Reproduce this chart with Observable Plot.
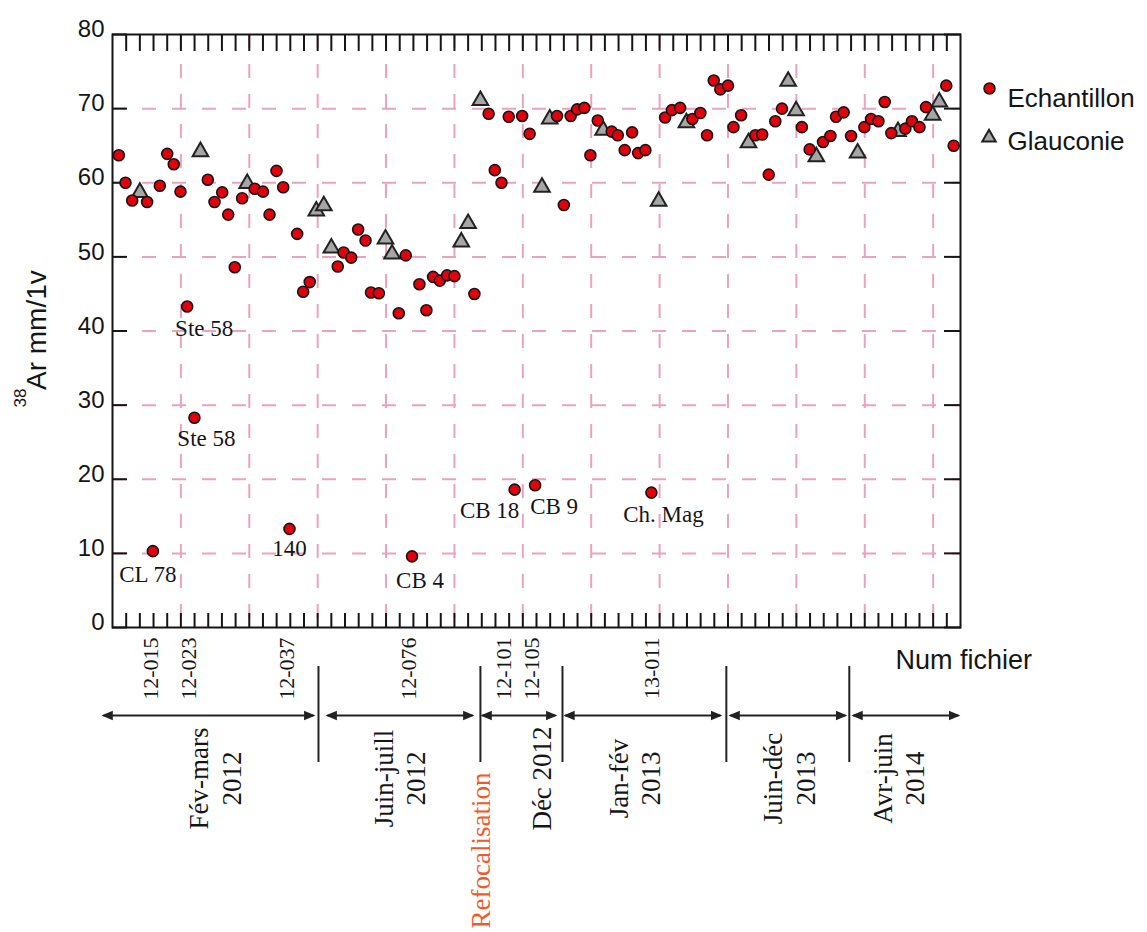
<!DOCTYPE html>
<html><head><meta charset="utf-8">
<script src="https://cdn.jsdelivr.net/npm/d3@7"></script>
<script src="https://cdn.jsdelivr.net/npm/@observablehq/plot@0.6"></script>
<style>html,body{margin:0;padding:0;background:#fff;overflow:hidden}svg{display:block}</style>
</head><body><div id="chart"></div>
<script>
// ---- Data (file index along x, 38Ar in mm/1v along y) ----
const echX = [0.46,0.95,1.44,2.53,2.95,3.46,4.0,4.48,4.97,5.46,5.99,6.97,7.46,8.02,8.46,8.94,9.48,10.4,11.0,11.48,11.99,12.48,12.94,13.5,13.94,14.42,
  16.47,16.9,17.45,17.96,18.5,18.9,19.47,20.93,21.44,21.9,22.44,22.95,23.44,23.93,24.46,25.0,26.46,
  27.5,27.95,28.44,28.97,29.4,29.95,30.5,30.9,32.5,33.0,33.5,33.97,34.5,34.94,35.48,36.5,36.94,37.45,37.99,38.43,38.96,39.4,
  40.4,40.9,41.5,42.4,42.98,43.47,43.96,44.44,45.0,45.4,45.96,47.0,47.5,47.98,48.46,48.95,50.4,50.97,51.95,52.49,52.9,53.46,54.0,
  54.97,55.46,56.0,56.46,56.94,57.97,58.45,59.0,59.48,60.96,61.5];
const echY = [63.7,60.0,57.6,57.4,10.3,59.6,63.9,62.5,58.8,43.3,28.3,60.4,57.4,58.7,55.7,48.6,57.9,59.2,58.8,55.7,61.6,59.4,13.3,53.1,45.3,46.6,
  48.7,50.6,49.9,53.7,52.2,45.2,45.1,42.4,50.2,9.6,46.3,42.8,47.3,46.8,47.5,47.4,45.0,
  69.3,61.7,60.0,68.9,18.6,69.0,66.6,19.2,69.0,57.0,69.0,69.9,70.1,63.7,68.4,66.9,66.4,64.4,66.8,64.0,64.4,18.2,
  68.8,69.8,70.1,68.6,69.4,66.4,73.8,72.6,73.1,67.5,69.1,66.4,66.5,61.1,68.3,70.0,67.5,64.5,65.5,66.3,68.9,69.5,66.3,
  67.5,68.6,68.3,70.9,66.7,67.3,68.3,67.5,70.2,73.1,65.0];
const glaX = [2.0,6.43,9.85,14.9,15.45,16.0,19.96,20.44,25.5,26.0,26.9,31.4,31.97,35.87,39.93,41.96,46.5,49.4,49.98,51.46,54.48,57.43,59.96,60.45];
const glaY = [58.7,64.2,59.9,56.2,56.9,51.2,52.4,50.4,52.0,54.5,71.1,59.4,68.6,67.1,57.5,68.1,65.4,73.7,69.7,63.5,64.0,66.9,69.1,70.9];

const outlierLabels = ["CL 78","Ste 58","Ste 58","140","CB 4","CB 18","CB 9","Ch. Mag"];
const outlierX = [2.95,5.46,5.99,12.94,21.9,29.4,30.9,39.4];
const outlierY = [10.3,43.3,28.3,13.3,9.6,18.6,19.2,18.2];

const fileLabels = ["12-015","12-023","12-037","12-076","12-101","12-105","13-011"];
const fileX = [2.81,5.59,12.79,21.64,28.65,30.7,39.47];

const periodLabels = ["Fév-mars\n2012","Juin-juill\n2012","Déc 2012","Jan-fév\n2013","Juin-déc\n2013","Avr-juin\n2014"];
const periodStart = [-0.66,15.72,27.05,33.11,45.18,54.17];
const periodEnd = [14.69,26.32,32.38,44.44,53.58,61.84];
const periodLabelX = [7.42,20.94,31.29,38.1,49.4,57.4];
const separatorX = [15.06,26.9,32.9,44.88,53.87];
const refocLabel = "Refocalisation";
const refocX = 26.97;

const seriesNames = ["Echantillon","Glauconie"];
const yTicks = [0,10,20,30,40,50,60,70,80];
const yGrid = [10,20,30,40,50,60,70];
const xGrid = [5,10,15,20,25,30,35,40,45,50,55,60];
const xMinor = d3.range(1, 62);
const xDomain = [0, 62];
const yDomain = [0, 80];

// ---- Build tables ----
const ech = echX.map((x, i) => ({x, y: echY[i]}));
const gla = glaX.map((x, i) => ({x, y: glaY[i]}));

// ---- Styles ----
const pink = "#e9a3bf";
const red = "#e1000b";
const ink = "#151515";
const serif = "'Liberation Serif', 'Times New Roman', serif";
const sans = "'Liberation Sans', Arial, sans-serif";
const labelOffsets = [[-5,23],[17,22],[12,21],[0,20],[8,24],[-25,21],[19,21],[12,22]];

const plot = Plot.plot({
  width: 1147, height: 932,
  marginLeft: 112, marginRight: 187, marginTop: 34, marginBottom: 305,
  style: {fontFamily: sans, background: "#fff", overflow: "visible", color: ink},
  x: {domain: xDomain},
  y: {domain: yDomain},
  marks: [
    Plot.gridY(yGrid, {stroke: pink, strokeOpacity: 1, strokeWidth: 2, strokeDasharray: "14,16"}),
    Plot.gridX(xGrid, {stroke: pink, strokeOpacity: 1, strokeWidth: 2, strokeDasharray: "14,16"}),
    Plot.frame({stroke: ink, strokeWidth: 2}),
    Plot.axisX(xMinor, {anchor: "bottom", tickSize: 14, dy: -14, tickFormat: () => "", label: null, stroke: ink, strokeWidth: 2}),
    Plot.axisX(xMinor, {anchor: "top", tickSize: 16, dy: 16, tickFormat: () => "", label: null, stroke: ink, strokeWidth: 2}),
    Plot.axisY(yTicks, {anchor: "left", tickSize: 15, dx: 15, tickFormat: () => "", label: null, stroke: ink, strokeWidth: 2}),
    Plot.axisY(yTicks, {anchor: "left", tickSize: 0, tickPadding: 8, dy: -5, fontSize: 24, label: null, fill: ink}),
    Plot.axisY(yTicks, {anchor: "right", tickSize: 17, dx: -17, tickFormat: () => "", label: null, stroke: ink, strokeWidth: 2}),
    Plot.dot(gla, {x: "x", y: "y", symbol: "triangle", r: 5.8, fill: "#a6a6a6", stroke: "#222", strokeWidth: 2}),
    Plot.dot(ech, {x: "x", y: "y", r: 5.5, fill: red, stroke: ink, strokeWidth: 1.6}),
    ...outlierLabels.map((t, i) => Plot.text([t], {
      x: () => outlierX[i], y: () => outlierY[i], text: d => d,
      dx: labelOffsets[i][0], dy: labelOffsets[i][1],
      fontFamily: serif, fontSize: 23, fill: ink
    })),
    // file number labels below axis
    Plot.text(fileLabels, {x: (d, i) => fileX[i], y: () => 0, text: d => d, rotate: -90, textAnchor: "end", dy: 10,
      fontFamily: serif, fontSize: 22, fill: ink}),
    // timeline
    Plot.link(periodLabels, {x1: (d, i) => periodStart[i], x2: (d, i) => periodEnd[i], y1: () => 0, y2: () => 0, dy: 88,
      stroke: "#222", strokeWidth: 2, markerStart: "arrow", markerEnd: "arrow"}),
    Plot.ruleX(separatorX, {insetTop: 632, insetBottom: -135, stroke: "#222", strokeWidth: 2}),
    Plot.text(periodLabels, {x: (d, i) => periodLabelX[i], y: () => 0, text: d => d, dy: 151, rotate: -90,
      textAnchor: "middle", lineHeight: 1.2, fontFamily: serif, fontSize: 27, fill: ink}),
    Plot.text([refocLabel], {x: () => refocX, y: () => 0, text: d => d, dy: 145, rotate: -90, textAnchor: "end",
      fontFamily: serif, fontSize: 27, fill: "#ef5a2a"}),
    // axis titles
    Plot.text(["Num fichier"], {frameAnchor: "bottom-right", dx: -65, dy: 41, textAnchor: "start", fontSize: 27, fill: ink}),
    Plot.text(["Ar mm/1v"], {frameAnchor: "left", rotate: -90, textAnchor: "start", dx: -75, dy: 59, fontSize: 28, fill: ink}),
    Plot.text(["38"], {frameAnchor: "left", rotate: -90, textAnchor: "start", dx: -92, dy: 76.5, fontSize: 17, fill: ink}),
    // legend
    Plot.dot([seriesNames[0]], {frameAnchor: "top-right", dx: 29, dy: 54, r: 5.5, fill: red, stroke: ink, strokeWidth: 1.5}),
    Plot.dot([seriesNames[1]], {frameAnchor: "top-right", dx: 28.5, dy: 103, symbol: "triangle", r: 5, fill: "#a6a6a6", stroke: "#222", strokeWidth: 2}),
    Plot.text([seriesNames[0]], {frameAnchor: "top-right", dx: 47, dy: 54, textAnchor: "start", fontSize: 26, fill: ink}),
    Plot.text([seriesNames[1]], {frameAnchor: "top-right", dx: 47, dy: 97, textAnchor: "start", fontSize: 26, fill: ink})
  ]
});

// filled, double-ended arrowheads
d3.select(plot).selectAll("marker").attr("overflow", "visible").attr("orient", "auto-start-reverse")
  .selectAll("path").attr("d", "M-7,-3.5L1.5,0L-7,3.5Z").attr("fill", "#222").attr("stroke", "none");

document.getElementById("chart").appendChild(plot);
</script>
</body></html>
